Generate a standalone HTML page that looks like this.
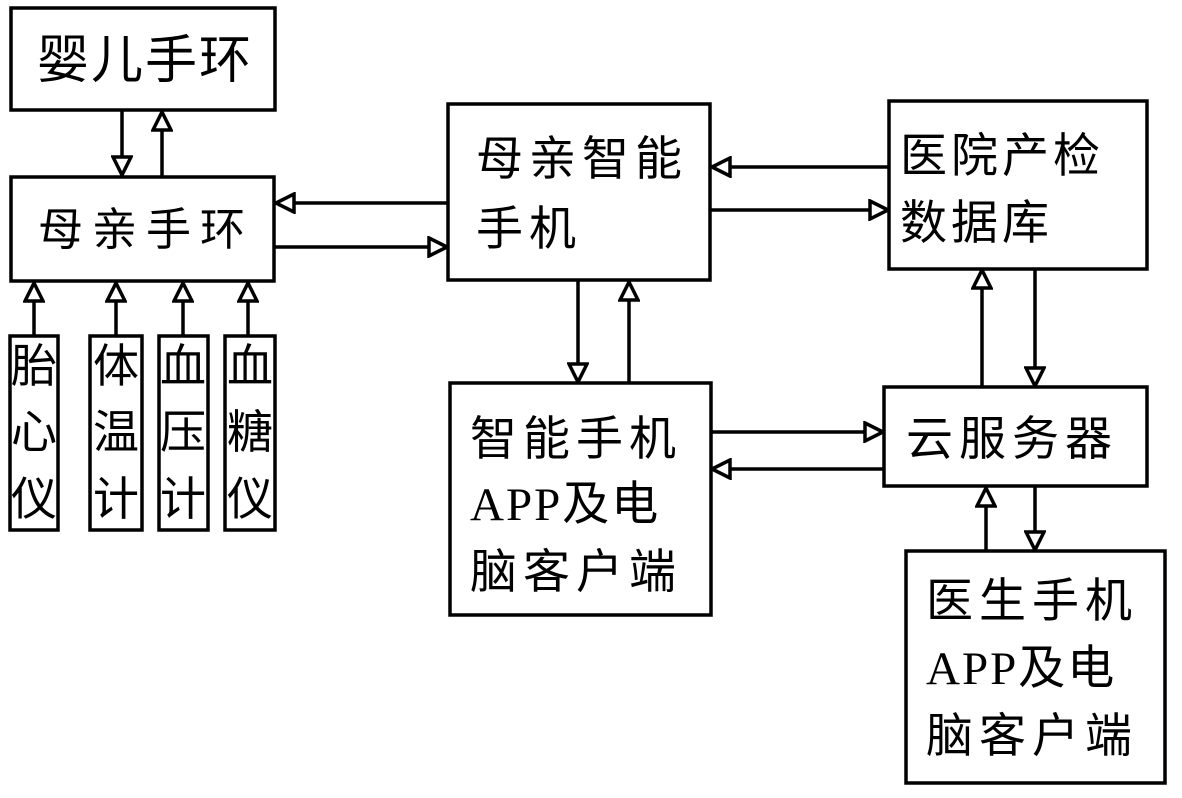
<!DOCTYPE html>
<html><head><meta charset="utf-8"><style>
html,body{margin:0;padding:0;background:#fff}
svg{display:block}
text{font-family:"Liberation Serif","Noto Sans CJK SC",sans-serif;fill:#000}
</style></head><body>
<svg width="1182" height="798" viewBox="0 0 1182 798" xmlns="http://www.w3.org/2000/svg">
<defs>
<marker id="a" viewBox="0 0 22 22" refX="21" refY="11" markerWidth="22" markerHeight="22" markerUnits="userSpaceOnUse" orient="auto">
<path d="M2,2 L20,11 L2,20 Z" fill="#fff" stroke="#000" stroke-width="3.5"/>
</marker>
</defs>
<g fill="none" stroke="#000" stroke-width="3.5">
<rect x="11" y="8" width="264" height="102"/>
<rect x="11" y="177" width="263" height="104"/>
<rect x="10" y="336" width="48" height="194"/>
<rect x="90" y="336" width="52" height="194"/>
<rect x="159" y="336" width="49" height="194"/>
<rect x="225" y="336" width="50" height="194"/>
<rect x="448" y="104" width="262" height="176"/>
<rect x="889" y="101" width="258" height="168"/>
<rect x="450" y="383" width="261" height="232"/>
<rect x="884" y="387" width="263" height="99"/>
<rect x="906" y="551" width="259" height="232"/>
</g>
<g stroke="#000" stroke-width="3.5" marker-end="url(#a)">
<line x1="122" y1="111" x2="122" y2="176"/>
<line x1="162" y1="176" x2="162" y2="111"/>
<line x1="34" y1="336" x2="34" y2="282"/>
<line x1="116" y1="336" x2="116" y2="282"/>
<line x1="183" y1="336" x2="183" y2="282"/>
<line x1="248" y1="336" x2="248" y2="282"/>
<line x1="448" y1="203" x2="275" y2="203"/>
<line x1="275" y1="247" x2="448" y2="247"/>
<line x1="889" y1="167" x2="711" y2="167"/>
<line x1="711" y1="210" x2="889" y2="210"/>
<line x1="578" y1="281" x2="578" y2="383"/>
<line x1="629" y1="383" x2="629" y2="281"/>
<line x1="982" y1="387" x2="982" y2="269"/>
<line x1="1035" y1="269" x2="1035" y2="387"/>
<line x1="711" y1="432" x2="884" y2="432"/>
<line x1="884" y1="469" x2="711" y2="469"/>
<line x1="986" y1="551" x2="986" y2="487"/>
<line x1="1035" y1="487" x2="1035" y2="551"/>
</g>
<g font-size="48">
<text x="37" y="78" font-size="52" letter-spacing="2">婴儿手环</text>
<text x="38" y="245" font-size="45" letter-spacing="9">母亲手环</text>
<text x="476" y="175" font-size="47" letter-spacing="6">母亲智能</text>
<text x="476" y="245" font-size="47" letter-spacing="6">手机</text>
<text x="900" y="172" font-size="47" letter-spacing="4">医院产检</text>
<text x="900" y="239" font-size="47" letter-spacing="4">数据库</text>
<text x="470" y="455" font-size="47" letter-spacing="6">智能手机</text>
<text x="470" y="520" font-size="47" letter-spacing="2">APP及电</text>
<text x="470" y="588" font-size="47" letter-spacing="6">脑客户端</text>
<text x="906" y="455" font-size="47" letter-spacing="6">云服务器</text>
<text x="926" y="617" font-size="47" letter-spacing="6">医生手机</text>
<text x="926" y="684" font-size="47" letter-spacing="2">APP及电</text>
<text x="926" y="752" font-size="47" letter-spacing="6">脑客户端</text>
</g>
<g font-size="46" text-anchor="middle">
<text x="34" y="382">胎</text><text x="34" y="448">心</text><text x="34" y="515">仪</text>
<text x="116" y="382">体</text><text x="116" y="448">温</text><text x="116" y="515">计</text>
<text x="183" y="382">血</text><text x="183" y="448">压</text><text x="183" y="515">计</text>
<text x="250" y="382">血</text><text x="250" y="448">糖</text><text x="250" y="515">仪</text>
</g>
</svg>
</body></html>
